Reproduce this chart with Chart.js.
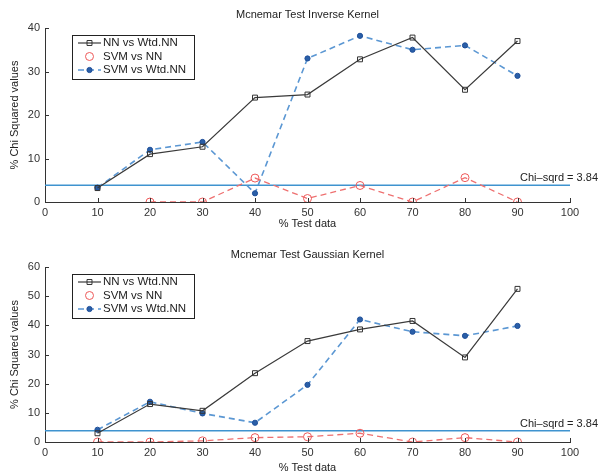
<!DOCTYPE html>
<html lang="en">
<head>
  <meta charset="UTF-8">
  <title>Mcnemar Test charts</title>
  <script src="https://cdn.jsdelivr.net/npm/chart.js"></script>
  <style>
    body { margin: 0; background: #ffffff; }
    .chart-box { position: absolute; left: 0; width: 601px; }
    #box1 { top: 0; height: 232px; }
    #box2 { top: 232px; height: 244px; }
  </style>
</head>
<body>
  <div class="chart-box" id="box1"><canvas id="inverseChart"></canvas></div>
  <div class="chart-box" id="box2"><canvas id="gaussChart"></canvas></div>

  <script>
    // test data percentages
    const testData = [10, 20, 30, 40, 50, 60, 70, 80, 90];
    const chiX = [0, 100];
    const chiValue = 3.84;

    // inverse kernel
    const invNNvsWtd = [3.2, 11, 12.7, 24, 24.7, 32.8, 37.8, 25.8, 37];
    const invSvmVsNN = [null, 0, 0, 5.5, 0.8, 3.8, 0, 5.6, 0];
    const invSvmVsWtd = [3.3, 12, 13.8, 2, 33, 38.2, 35, 36, 29];

    // gaussian kernel
    const gaussNNvsWtd = [3, 13, 10.7, 23.6, 34.6, 38.6, 41.5, 29, 52.5];
    const gaussSvmVsNN = [0, 0, 0.4, 1.5, 1.8, 3, 0, 1.5, 0];
    const gaussSvmVsWtd = [4.2, 13.8, 9.8, 6.6, 19.6, 42, 37.8, 36.4, 39.8];

    const FONT = "'Liberation Sans', Arial, sans-serif";
    const AXIS = '#333333';

    const pts = (xs, ys) => xs.map((x, i) => ({ x, y: ys[i] }));

    // draws title, inside tick marks, chi label and the boxed legend
    const extras = {
      id: 'extras',
      afterDraw(chart) {
        const o = chart.options.plugins.extras;
        const ctx = chart.ctx, area = chart.chartArea;
        const xs = chart.scales.x, ys = chart.scales.y;
        ctx.save();

        ctx.fillStyle = '#222';
        ctx.font = '11px ' + FONT;
        ctx.textAlign = 'center';
        ctx.textBaseline = 'middle';
        ctx.fillText(o.title, (area.left + area.right) / 2, o.titleY);

        // tick marks pointing into the plot
        ctx.strokeStyle = AXIS;
        ctx.lineWidth = 1;
        ctx.beginPath();
        xs.ticks.forEach(t => {
          const px = Math.round(xs.getPixelForValue(t.value)) + 0.5;
          ctx.moveTo(px, area.bottom);
          ctx.lineTo(px, area.bottom - 4);
        });
        ys.ticks.forEach(t => {
          const py = Math.round(ys.getPixelForValue(t.value)) + 0.5;
          ctx.moveTo(area.left, py);
          ctx.lineTo(area.left + 4, py);
        });
        ctx.stroke();

        // chi-sqrd label
        ctx.fillStyle = '#222';
        ctx.textAlign = 'right';
        ctx.fillText('Chi\u2013sqrd = 3.84', xs.getPixelForValue(100) + 28, ys.getPixelForValue(chiValue) - 7);

        // legend
        const lx = area.left + 27, ly = area.top + 7, lw = 122, lh = 44;
        ctx.fillStyle = '#fff';
        ctx.fillRect(lx, ly, lw, lh);
        ctx.strokeStyle = '#222';
        ctx.strokeRect(lx + 0.5, ly + 0.5, lw, lh);
        chart.data.datasets.slice(0, 3).forEach((ds, i) => {
          const y = ly + 8 + i * 13.5;
          if (ds.legendLine) {
            ctx.strokeStyle = ds.borderColor;
            ctx.lineWidth = ds.borderWidth;
            ctx.setLineDash(ds.borderDash || []);
            ctx.beginPath();
            ctx.moveTo(lx + 6, y);
            ctx.lineTo(lx + 29, y);
            ctx.stroke();
          }
          ctx.setLineDash([]);
          ctx.fillStyle = ds.pointBackgroundColor;
          ctx.strokeStyle = ds.pointBorderColor;
          ctx.lineWidth = ds.pointBorderWidth;
          Chart.helpers.drawPoint(ctx, {
            pointStyle: ds.pointStyle, radius: ds.pointRadius,
            borderWidth: ds.pointBorderWidth, rotation: 0
          }, lx + 17.5, y);
          ctx.fillStyle = '#222';
          ctx.textAlign = 'left';
          ctx.font = '11.5px ' + FONT;
          ctx.fillText(ds.label, lx + 31, y);
        });
        ctx.restore();
      }
    };

    function makeChart(id, title, yMax, nn, svmNN, svmWtd, layoutCfg) {
      return new Chart(document.getElementById(id), {
        type: 'line',
        data: {
          datasets: [
            {
              label: 'NN vs Wtd.NN', data: pts(testData, nn),
              borderColor: '#3a3a3a', borderWidth: 1.2, legendLine: true,
              pointStyle: 'rect', pointRadius: 3.5, pointBorderWidth: 1,
              pointBorderColor: '#333', pointBackgroundColor: 'rgba(255,255,255,0)'
            },
            {
              label: 'SVM vs NN', data: pts(testData, svmNN),
              borderColor: '#ee7070', borderWidth: 1.3, borderDash: [6, 4], legendLine: false,
              pointStyle: 'circle', pointRadius: 4, pointBorderWidth: 1,
              pointBorderColor: '#ee5a5a', pointBackgroundColor: 'rgba(255,255,255,0)'
            },
            {
              label: 'SVM vs Wtd.NN', data: pts(testData, svmWtd),
              borderColor: '#5b97d3', borderWidth: 1.6, borderDash: [6, 4], legendLine: true,
              pointStyle: 'circle', pointRadius: 2.6, pointBorderWidth: 1,
              pointBorderColor: '#1f4f99', pointBackgroundColor: '#2a5fa8'
            },
            {
              label: 'Chi-sqrd', data: pts(chiX, [chiValue, chiValue]),
              borderColor: '#3f93cf', borderWidth: 1.5, pointRadius: 0
            }
          ]
        },
        options: {
          responsive: true,
          maintainAspectRatio: false,
          animation: false,
          spanGaps: false,
          layout: { padding: { top: layoutCfg.plotTop, right: 31, left: 0, bottom: 0 } },
          plugins: {
            legend: { display: false },
            tooltip: { enabled: false },
            extras: { title, titleY: layoutCfg.titleY }
          },
          scales: {
            x: {
              type: 'linear', min: 0, max: 100,
              afterFit: s => { s.height = layoutCfg.axisH; },
              grid: { display: false, drawTicks: false },
              border: { color: AXIS, width: 1 },
              ticks: { stepSize: 10, padding: 4, color: '#333', font: { family: FONT, size: 11 } },
              title: { display: true, text: '% Test data', color: '#222', padding: { top: 0, bottom: 1 }, font: { family: FONT, size: 11 } }
            },
            y: {
              min: 0, max: yMax,
              afterFit: s => { s.width = 45; },
              grid: { display: false, drawTicks: false },
              border: { color: AXIS, width: 1 },
              ticks: { stepSize: 10, padding: 5, color: '#333', font: { family: FONT, size: 11 } },
              title: { display: true, text: '% Chi Squared values', color: '#222', padding: { top: 8, bottom: 0 }, font: { family: FONT, size: 11 } }
            }
          }
        },
        plugins: [extras]
      });
    }

    makeChart('inverseChart', 'Mcnemar Test Inverse Kernel', 40, invNNvsWtd, invSvmVsNN, invSvmVsWtd,
      { plotTop: 28, axisH: 30, titleY: 15 });
    makeChart('gaussChart', 'Mcnemar Test Gaussian Kernel', 60, gaussNNvsWtd, gaussSvmVsNN, gaussSvmVsWtd,
      { plotTop: 35, axisH: 34, titleY: 23 });
  </script>
</body>
</html>
